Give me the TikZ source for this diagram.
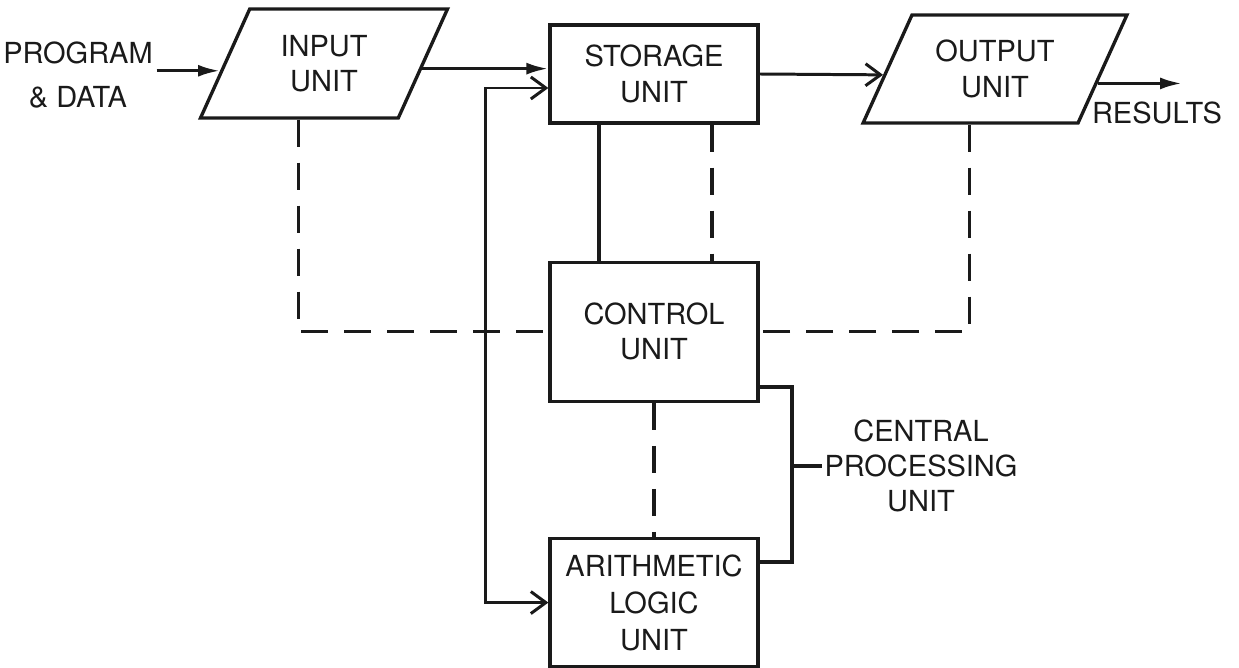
\documentclass[tikz,border=0pt]{standalone}
\usepackage{fontspec}
\setmainfont{TeX Gyre Heros}
\usetikzlibrary{arrows.meta, positioning, calc, shapes.geometric}
\definecolor{InkBlack}{HTML}{1A1A1A}
\newcommand{\unitfont}{\fontsize{16.5pt}{20pt}\selectfont}
\tikzset{
  unitbox/.style={draw=InkBlack, line width=1.9pt, align=center, minimum width=4.16cm, inner sep=2pt, font=\unitfont, text=InkBlack},
  iobox/.style={draw=InkBlack, line width=1.9pt, trapezium, trapezium stretches=true, align=center, inner sep=2pt, font=\unitfont, text=InkBlack},
  plaintext/.style={align=center, inner sep=2pt, font=\unitfont, text=InkBlack},
  solidline/.style={draw=InkBlack, line width=1.9pt},
  dashline/.style={draw=InkBlack, line width=1.9pt, dash pattern=on 0.54cm off 0.32cm},
  fillarrow/.style={-{Latex[length=0.44cm, width=0.24cm]}, line width=1.9pt, draw=InkBlack},
  openarrow/.style={-{Straight Barb[length=0.3cm, width=0.44cm]}, line width=1.7pt, draw=InkBlack},
  busarrow/.style={{Straight Barb[length=0.3cm, width=0.44cm]}-{Straight Barb[length=0.3cm, width=0.44cm]}, line width=1.7pt, draw=InkBlack}
}

\begin{document}
\begin{tikzpicture}[x=0.02cm, y=-0.02cm]
\useasboundingbox (0,0) rectangle (1239,668);

% units
\node[unitbox, minimum height=1.96cm] (storage) at (654,74) {STORAGE\\UNIT};
\node[unitbox, minimum height=2.78cm, below=2.72cm of storage] (control) {CONTROL\\UNIT};
\node[unitbox, minimum height=2.56cm, below=2.68cm of control, font=\fontsize{16.5pt}{21pt}\selectfont] (alu) {ARITHMETIC\\LOGIC\\UNIT};

\node[iobox, trapezium left angle=64, trapezium right angle=116, minimum width=4.96cm, minimum height=2.18cm] (input) at (324,63.5) {INPUT\\UNIT};
\node[iobox, trapezium left angle=60, trapezium right angle=120, minimum width=5.28cm, minimum height=2.16cm] (output) at (995,69) {OUTPUT\\UNIT};

% free texts
\node[plaintext, font=\fontsize{16.5pt}{25.5pt}\selectfont] (prog) at (78,75) {PROGRAM\\\& DATA};
\node[plaintext] (results) at (1157,113) {RESULTS};
\node[plaintext, inner sep=1pt] (cpu) at (921,466) {CENTRAL\\PROCESSING\\UNIT};

\coordinate (resend) at (1182,82);
\coordinate (bus) at (485,88);
\coordinate (cpubar) at (792,466);
\coordinate (sc) at ($(storage.south)+(-55,0)$);
\coordinate (sd) at ($(storage.south)+(58,0)$);
\coordinate (inbot) at ($(input.bottom left corner)!.5!(input.bottom right corner)$);
\coordinate (outbot) at ($(output.bottom left corner)!.5!(output.bottom right corner)$);

% data flow
\draw[fillarrow] (prog.east |- input.184) -- (input.184);
\draw[fillarrow] (input.357) -- (input.357 -| storage.west);
\draw[openarrow] (storage.east) -- (output.183);
\draw[fillarrow] (output.352) -- (output.352 -| resend);
\draw[busarrow] (storage.west |- bus) -- (bus) |- (alu.west);
\draw[solidline] (sc) -- (sc |- control.north);

% control signals
\draw[dashline] (inbot) |- (control.west);
\draw[dashline] (outbot) |- (control.east);
\draw[dashline] (sd) -- (sd |- control.north);
\draw[dashline] (control.south) -- (alu.north);

% cpu bracket
\draw[solidline] ($(control.south east)+(0,-16)$) -| (cpubar) |- ($(alu.north east)+(0,25)$);
\draw[solidline] (cpubar) -- (cpu.west);
\end{tikzpicture}
\end{document}
